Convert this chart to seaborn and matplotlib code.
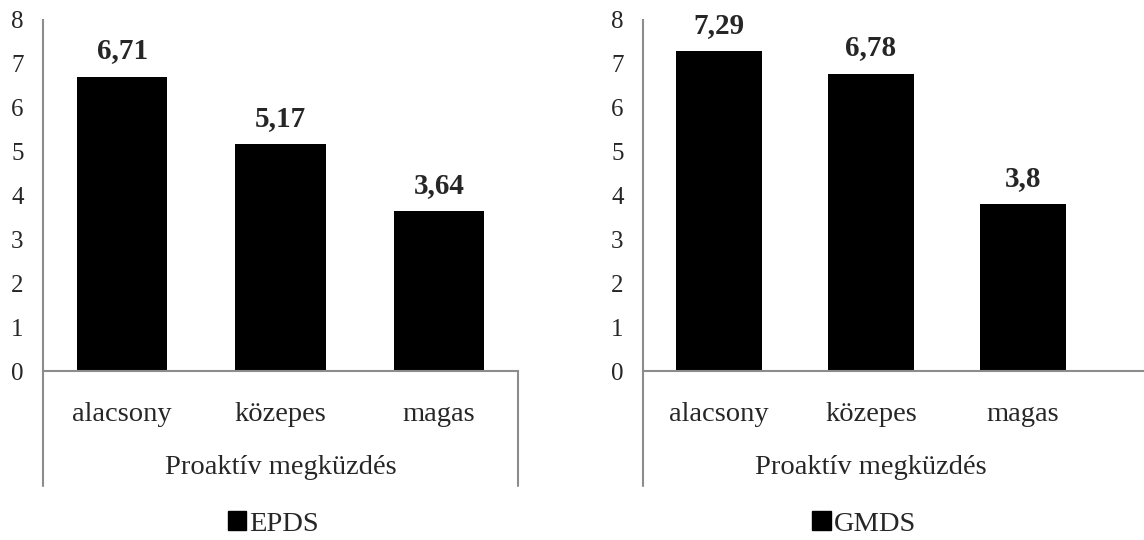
import matplotlib
matplotlib.use("Agg")
import matplotlib.pyplot as plt
import matplotlib.patches as mpatches
import seaborn as sns
import pandas as pd

# adatok
categories = ["alacsony", "közepes", "magas"]
epds_values = [6.71, 5.17, 3.64]
gmds_values = [7.29, 6.78, 3.80]
epds_labels = ["6,71", "5,17", "3,64"]
gmds_labels = ["7,29", "6,78", "3,8"]
x_title = "Proaktív megküzdés"
yticks = [0, 1, 2, 3, 4, 5, 6, 7, 8]

sns.set_style("white")
plt.rcParams["font.family"] = ["Liberation Serif", "DejaVu Serif"]

W, H = 1144, 540
fig = plt.figure(figsize=(W / 100, H / 100), dpi=100)

spine_col = "#8c8c8c"


def panel(left_px, right_px, span_px, values, labels, name, legend_x):
    ax = fig.add_axes([left_px / W, 1 - 371 / H, (right_px - left_px) / W, (371 - 20) / H])
    df = pd.DataFrame({"kat": categories, "ertek": values})
    sns.barplot(data=df, x="kat", y="ertek", color="black", width=0.57,
                saturation=1, ax=ax, linewidth=0)
    ncat = (right_px - left_px) / span_px
    ax.set_xlim(-0.5, -0.5 + ncat)
    ax.set_ylim(0, 8)
    ax.set_yticks(yticks)
    ax.set_yticklabels([str(t) for t in yticks], fontsize=18)
    ax.tick_params(axis="y", length=0, pad=14)
    ax.tick_params(axis="x", length=0, pad=22, labelsize=20.5)
    ax.set_xlabel("")
    ax.set_ylabel("")
    for s in ["top", "right"]:
        ax.spines[s].set_visible(False)
    for s in ["left", "bottom"]:
        ax.spines[s].set_color(spine_col)
        ax.spines[s].set_linewidth(1.5)
    # hosszabb függőleges vonalak a kategória címke alatt
    ext = -(486 - 371) / (371 - 20)
    ax.plot([0, 0], [ext, 0], transform=ax.transAxes, color=spine_col,
            lw=1.5, clip_on=False)
    if right_px - left_px < span_px * 3 + 5:
        ax.plot([1, 1], [ext, 0], transform=ax.transAxes, color=spine_col,
                lw=1.5, clip_on=False)
    for i, (v, lab) in enumerate(zip(values, labels)):
        ax.annotate(lab, (i, v), xytext=(0, 13), textcoords="offset points",
                    ha="center", va="baseline", fontsize=21, fontweight="bold")
    fig.text((left_px + 1.5 * span_px) / W, 1 - 468 / H, x_title,
             ha="center", va="center", fontsize=20.5)
    handle = mpatches.Patch(color="black", label=name)
    fig.legend(handles=[handle], loc="center", bbox_to_anchor=(legend_x / W, 1 - 524 / H),
               frameon=False, fontsize=20.5, handlelength=0.65, handleheight=0.65,
               handletextpad=0.1, borderaxespad=0)
    return ax


panel(43, 518, 475 / 3, epds_values, epds_labels, "EPDS", 273)
panel(643, 1144, 152, gmds_values, gmds_labels, "GMDS", 864)

fig.savefig("out.png", dpi=100)
